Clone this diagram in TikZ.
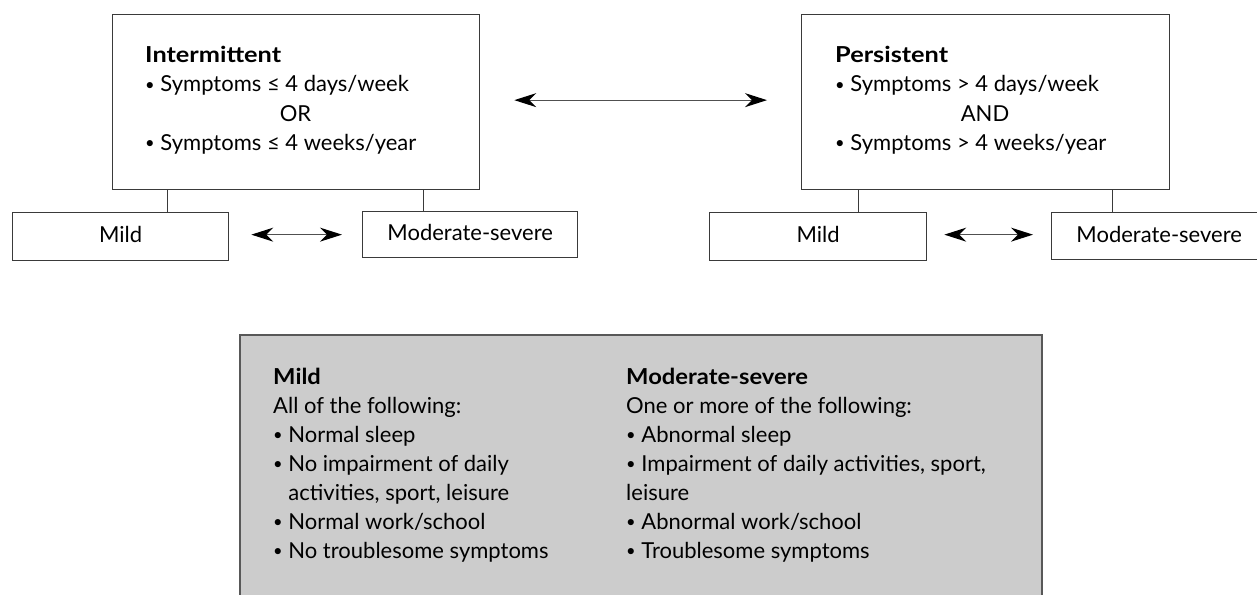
\documentclass[tikz,border=0pt]{standalone}
\usepackage{fontspec}
\setmainfont{Lato}
\usetikzlibrary{arrows.meta}
\definecolor{boxline}{HTML}{3A3A3A}
\definecolor{graybg}{HTML}{CCCCCC}
\definecolor{shaft}{HTML}{505050}
\newcommand\hdTop[1]{\scalebox{1.15}[1]{\textbf{#1}}}
\newcommand\hdGray[1]{\scalebox{1.08}[1]{\textbf{#1}}}
\newcommand\bul{\raisebox{0.14ex}{\scalebox{0.75}{•}}}
\tikzset{
  box/.style={draw=boxline, line width=1.3pt, fill=white, inner sep=0pt},
  graybox/.style={draw=boxline!85, line width=1.8pt, fill=graybg, inner sep=0pt},
  conn/.style={draw=boxline, line width=1pt},
  dbl/.style={draw=shaft, line width=1.2pt, {Stealth[length=22pt,width=14pt,inset=7pt,color=black]}-{Stealth[length=22pt,width=14pt,inset=7pt,color=black]}},
  txt/.style={font=\fontsize{22}{29}\selectfont, inner sep=0pt, anchor=base west, align=left},
  ctxt/.style={font=\fontsize{22}{29}\selectfont, inner sep=0pt, anchor=base},
}
\begin{document}
\begin{tikzpicture}[x=1pt,y=-1pt]
\useasboundingbox (0,0) rectangle (1257,594);

% top boxes
\node[box, minimum width=367pt, minimum height=175pt, anchor=north west] (int) at (112,14) {};
\node[box, minimum width=368pt, minimum height=175pt, anchor=north west] (pers) at (801,14) {};

% sub boxes left
\node[box, minimum width=216pt, minimum height=48pt, anchor=north west] (mildL) at (12,212) {};
\node[box, minimum width=215pt, minimum height=46pt, anchor=north west] (modL) at (362,211) {};
% sub boxes right
\node[box, minimum width=217pt, minimum height=48pt, anchor=north west] (mildR) at (709,212) {};
\node[box, minimum width=215pt, minimum height=47pt, anchor=north west] (modR) at (1051,212) {};

% labels in sub boxes
\node[ctxt] (mildLt) at ([yshift=-6pt]mildL.center) {Mild};
\node[ctxt] (modLt) at ([yshift=-6pt]modL.center) {Moderate-severe};
\node[ctxt] (mildRt) at ([yshift=-6pt]mildR.center) {Mild};
\node[ctxt] (modRt) at ([yshift=-6pt]modR.center) {Moderate-severe};

% connectors
\draw[conn] ([xshift=55pt]int.south west) -- ([xshift=155pt]mildL.north west);
\draw[conn] ([xshift=311pt]int.south west) -- ([xshift=61pt]modL.north west);
\draw[conn] ([xshift=57pt]pers.south west) -- ([xshift=149pt]mildR.north west);
\draw[conn] ([xshift=311pt]pers.south west) -- ([xshift=61pt]modR.north west);

% arrows
\draw[dbl, shorten <=34pt, shorten >=34pt] ([yshift=2pt]int.east) -- ([yshift=2pt]pers.west);
\draw[dbl, shorten <=22pt, shorten >=20pt] ([yshift=2pt]mildL.east) -- ([yshift=2pt]mildL.east -| modL.west);
\draw[dbl, shorten <=17pt, shorten >=18pt] ([yshift=2pt]mildR.east) -- ([yshift=2pt]mildR.east -| modR.west);

% intermittent text
\node[txt] (intt) at (145,92) {\hdTop{Intermittent}\\\bul{} Symptoms ≤ 4 days/week};
\node[ctxt] (intor) at (295.5,121) {OR};
\node[txt] (intl) at (145,150) {\bul{} Symptoms ≤ 4 weeks/year};

% persistent text
\node[txt] (perst) at (835,92) {\hdTop{Persistent}\\\bul{} Symptoms > 4 days/week};
\node[ctxt] (persand) at (985,121) {AND};
\node[txt] (persl) at (835,150) {\bul{} Symptoms > 4 weeks/year};

% gray box
\node[graybox, minimum width=802pt, minimum height=264pt, anchor=north west] (gray) at (239,334) {};

\node[txt] (mildcol) at (273,558) {\hdGray{Mild}\\
All of the following:\\
\bul{} Normal sleep\\
\bul{} No impairment of daily\\
\phantom{\bul{} }activities, sport, leisure\\
\bul{} Normal work/school\\
\bul{} No troublesome symptoms};

\node[txt] (modcol) at (626,558) {\hdGray{Moderate-severe}\\
One or more of the following:\\
\bul{} Abnormal sleep\\
\bul{} Impairment of daily activities, sport,\\
leisure\\
\bul{} Abnormal work/school\\
\bul{} Troublesome symptoms};
\end{tikzpicture}
\end{document}
